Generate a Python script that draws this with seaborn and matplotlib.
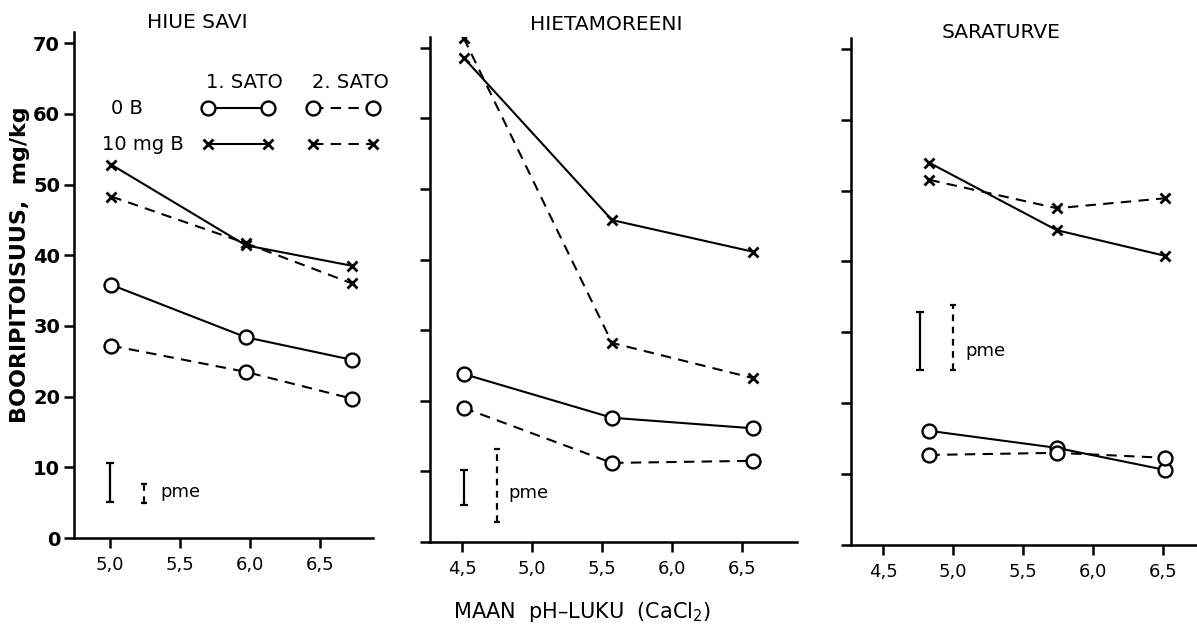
import numpy as np
import pandas as pd
import matplotlib
matplotlib.use('Agg')
import matplotlib.pyplot as plt
from matplotlib.lines import Line2D
import seaborn as sns

# --- data (luettu kuvasta) ---
SOILS = ['HIUE SAVI', 'HIETAMOREENI', 'SARATURVE']

PH_HIUESAVI = [5.01, 5.97, 6.73]
PH_HIETAMOREENI = [4.51, 5.57, 6.58]
PH_SARATURVE = [4.83, 5.74, 6.51]

# 1. sato / 2. sato, 0 B / 10 mg B
HIUESAVI_S1_0B = [35.8, 28.4, 25.2]
HIUESAVI_S2_0B = [27.2, 23.5, 19.7]
HIUESAVI_S1_10B = [52.8, 41.4, 38.5]
HIUESAVI_S2_10B = [48.3, 41.7, 36.0]

HIETA_S1_0B = [23.8, 17.6, 16.1]
HIETA_S2_0B = [19.0, 11.2, 11.5]
HIETA_S1_10B = [68.6, 45.6, 41.1]
HIETA_S2_10B = [71.4, 28.2, 23.2]

SARA_S1_0B = [16.1, 13.7, 10.6]
SARA_S2_0B = [12.7, 13.0, 12.3]
SARA_S1_10B = [53.9, 44.4, 40.8]
SARA_S2_10B = [51.5, 47.5, 48.9]

# pme-janat: x, alaraja, yläraja (1. sato yhtenäinen, 2. sato katkoviiva)
PME_X_S1 = [5.00, 4.51, 4.76]
PME_LO_S1 = [5.1, 5.2, 24.7]
PME_HI_S1 = [10.6, 10.2, 32.9]
PME_X_S2 = [5.24, 4.75, 5.00]
PME_LO_S2 = [4.9, 2.8, 24.7]
PME_HI_S2 = [7.7, 13.2, 33.9]
PME_TEXT_X = [5.36, 4.83, 5.09]
PME_TEXT_Y = [6.5, 6.9, 27.4]

Y_TICKS = [0, 10, 20, 30, 40, 50, 60, 70]
X_TICKS_1 = [5.0, 5.5, 6.0, 6.5]
X_TICKS_23 = [4.5, 5.0, 5.5, 6.0, 6.5]

ph_by_soil = {'HIUE SAVI': PH_HIUESAVI, 'HIETAMOREENI': PH_HIETAMOREENI, 'SARATURVE': PH_SARATURVE}
values = {
    'HIUE SAVI': {('1', '0B'): HIUESAVI_S1_0B, ('2', '0B'): HIUESAVI_S2_0B,
                  ('1', '10B'): HIUESAVI_S1_10B, ('2', '10B'): HIUESAVI_S2_10B},
    'HIETAMOREENI': {('1', '0B'): HIETA_S1_0B, ('2', '0B'): HIETA_S2_0B,
                     ('1', '10B'): HIETA_S1_10B, ('2', '10B'): HIETA_S2_10B},
    'SARATURVE': {('1', '0B'): SARA_S1_0B, ('2', '0B'): SARA_S2_0B,
                  ('1', '10B'): SARA_S1_10B, ('2', '10B'): SARA_S2_10B},
}

rows = []
for soil in SOILS:
    for (sato, boori), vals in values[soil].items():
        for ph, v in zip(ph_by_soil[soil], vals):
            rows.append(dict(soil=soil, sato=sato, boori=boori, ph=ph, b=v))
df = pd.DataFrame(rows)

sns.set_style('ticks')
plt.rcParams['font.family'] = ['DejaVu Sans']
plt.rcParams['axes.linewidth'] = 1.8
for key in ['text.color', 'axes.edgecolor', 'axes.labelcolor', 'xtick.color', 'ytick.color']:
    plt.rcParams[key] = 'black'

W, H = 1197, 636
fig = plt.figure(figsize=(W / 100, H / 100), dpi=100)

# paneelit pikseleinä: vasen, oikea, alareuna, px/yksikkö (y)
PANELS = [
    dict(left=74, right=373, bottom=538, ypx=7.07, xlim=(4.743, 6.879), xticks=X_TICKS_1),
    dict(left=430, right=797, bottom=542, ypx=7.06, xlim=(4.27, 6.891), xticks=X_TICKS_23),
    dict(left=851, right=1197, bottom=545, ypx=7.09, xlim=(4.27, 6.741), xticks=X_TICKS_23),
]
YMAX = 71.5
TITLE_POS = [(197, 22), (606, 24), (1001, 32)]

DASH = (0, (5, 3.5))
styles = {
    ('1', '0B'): dict(marker='o', linestyle='-'),
    ('2', '0B'): dict(marker='o', linestyle=DASH),
    ('1', '10B'): dict(marker='x', linestyle='-'),
    ('2', '10B'): dict(marker='x', linestyle=DASH),
}


def mk_kws(marker):
    if marker == 'o':
        return dict(markersize=10, markerfacecolor='white', markeredgecolor='k', markeredgewidth=1.7)
    return dict(markersize=7, markeredgecolor='k', markeredgewidth=2.0)


axes = []
for i, (soil, p) in enumerate(zip(SOILS, PANELS)):
    hpx = YMAX * p['ypx']
    ax = fig.add_axes([p['left'] / W, (H - p['bottom']) / H,
                       (p['right'] - p['left']) / W, hpx / H])
    axes.append(ax)
    sub = df[df.soil == soil]
    for (sato, boori), st in styles.items():
        d = sub[(sub.sato == sato) & (sub.boori == boori)]
        kw = mk_kws(st['marker'])
        sns.lineplot(data=d, x='ph', y='b', ax=ax, color='k', linewidth=1.5,
                     linestyle=st['linestyle'], marker=st['marker'], errorbar=None,
                     markersize=kw['markersize'], markerfacecolor=kw.get('markerfacecolor', 'k'),
                     mec='k', mew=kw['markeredgewidth'])

    # pme-janat
    lo, hi = PME_LO_S1[i], PME_HI_S1[i]
    ax.errorbar([PME_X_S1[i]], [(lo + hi) / 2], yerr=[(hi - lo) / 2], fmt='none',
                ecolor='k', elinewidth=1.6, capsize=3, capthick=1.6)
    lo, hi = PME_LO_S2[i], PME_HI_S2[i]
    eb = ax.errorbar([PME_X_S2[i]], [(lo + hi) / 2], yerr=[(hi - lo) / 2], fmt='none',
                     ecolor='k', elinewidth=1.6, capsize=2, capthick=1.6)
    eb[2][0].set_linestyle((0, (3, 2.5)))
    ax.text(PME_TEXT_X[i], PME_TEXT_Y[i], 'pme', fontsize=13, ha='left', va='center')

    ax.set_xlim(*p['xlim'])
    ax.set_ylim(0, YMAX)
    ax.set_xticks(p['xticks'])
    ax.set_xticklabels([f'{t:.1f}'.replace('.', ',') for t in p['xticks']])
    ax.set_yticks(Y_TICKS)
    if i == 0:
        ax.set_yticklabels([str(t) for t in Y_TICKS], fontweight='bold')
    else:
        ax.set_yticklabels([])
    ax.tick_params(axis='both', direction='out', length=7, width=1.8, labelsize=14)
    ax.tick_params(axis='x', pad=6, labelsize=13)
    ax.tick_params(axis='y', pad=3)
    ax.set_xlabel('')
    ax.set_ylabel('')
    sns.despine(ax=ax)
    ax.patch.set_alpha(0)

    tx, ty = TITLE_POS[i]
    fig.text(tx / W, 1 - ty / H, soil, fontsize=14.5, ha='center', va='center')

# selite ensimmäiseen paneeliin
ax = axes[0]
handles = []
for key in [('1', '0B'), ('1', '10B'), ('2', '0B'), ('2', '10B')]:
    st = styles[key]
    handles.append(Line2D([], [], color='k', lw=1.5, linestyle=st['linestyle'],
                          marker=st['marker'], **mk_kws(st['marker'])))
leg = ax.legend(handles, [''] * 4, ncol=2, numpoints=2,
                frameon=False, fontsize=12, handlelength=4.2, handletextpad=0,
                columnspacing=2.1, labelspacing=1.1, borderpad=0, borderaxespad=0,
                loc='upper left', bbox_to_anchor=(203 / W, 1 - 100 / H),
                bbox_transform=fig.transFigure)

fig.text(244 / W, 1 - 83 / H, '1. SATO', fontsize=14, ha='center', va='center')
fig.text(350 / W, 1 - 83 / H, '2. SATO', fontsize=14, ha='center', va='center')
fig.text(127 / W, 1 - 109 / H, '0 B', fontsize=14, ha='center', va='center')
fig.text(143 / W, 1 - 145 / H, '10 mg B', fontsize=14, ha='center', va='center')

fig.text(20 / W, 1 - 265 / H, 'BOORIPITOISUUS,  mg/kg', rotation=90, fontsize=16,
         fontweight='bold', ha='center', va='center')
fig.text(582 / W, 1 - 612 / H, 'MAAN  pH\u2013LUKU  (CaCl$_2$)', fontsize=15,
         ha='center', va='center')

fig.savefig('out.png', dpi=100)
